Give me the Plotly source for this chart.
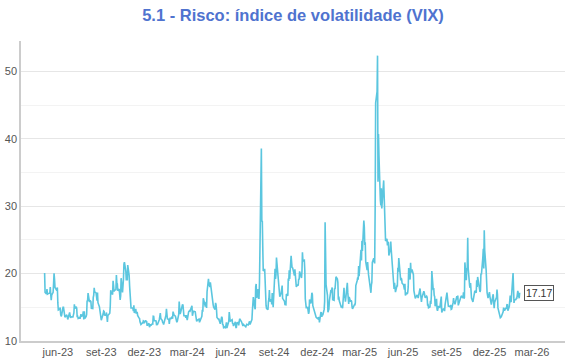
import pandas as pd
import plotly.graph_objects as go

title_text = "5.1 - Risco: índice de volatilidade (VIX)"
first_day = "2023-05-04"

market_holidays = [
    "2023-05-29", "2023-06-19", "2023-07-04", "2023-09-04", "2023-11-23", "2023-12-25",
    "2024-01-01", "2024-01-15", "2024-02-19", "2024-03-29", "2024-05-27", "2024-06-19",
    "2024-07-04", "2024-09-02", "2024-11-28", "2024-12-25",
    "2025-01-01", "2025-01-09", "2025-01-20", "2025-02-17", "2025-04-18", "2025-05-26",
    "2025-06-19", "2025-07-04", "2025-09-01", "2025-11-27", "2025-12-25",
    "2026-01-01", "2026-01-19",
]

# monthly blocks of daily closes (May..Dec 2023)
vix_2023 = [
    [20.09, 17.19, 16.98, 17.71, 16.94, 17.03, 17.03, 17.12, 17.99, 16.87, 16.05, 16.81,
     17.21, 18.53, 20.03, 19.14, 17.95, 17.46, 17.94],
    [15.65, 14.60, 14.73, 14.96, 13.94, 13.65, 13.83, 15.01, 15.01, 14.50, 14.15, 13.54,
     13.88, 13.54, 13.20, 13.44, 14.25, 13.74, 13.43, 13.54, 13.59],
    [13.57, 14.18, 15.44, 14.83, 15.07, 14.84, 13.54, 13.61, 13.34, 13.48, 13.30, 13.76,
     13.99, 13.60, 13.91, 14.41, 13.19, 14.41, 13.33, 13.63],
    [13.93, 15.99, 15.92, 17.10, 15.77, 15.99, 15.96, 15.85, 14.84, 14.82, 16.46, 16.78,
     17.89, 17.30, 17.13, 16.00, 15.98, 17.20, 15.68, 15.08, 14.45, 13.88, 13.57],
    [13.09, 14.04, 14.45, 14.40, 13.84, 13.80, 14.23, 13.48, 12.82, 13.79, 14.00, 14.11,
     15.14, 17.54, 17.20, 16.90, 18.94, 18.22, 17.34, 17.52],
    [17.61, 19.78, 18.58, 18.49, 17.45, 17.70, 17.03, 16.09, 16.69, 19.32, 17.21, 17.88,
     19.22, 21.40, 21.71, 20.37, 18.97, 20.19, 18.97, 21.27, 19.75, 18.14],
    [16.87, 15.66, 14.91, 14.89, 14.81, 14.45, 15.29, 14.17, 14.76, 14.16, 14.18, 14.32,
     13.80, 13.41, 13.35, 12.85, 12.46, 12.69, 12.69, 12.98, 12.92],
    [12.63, 13.08, 12.85, 12.97, 12.35, 12.35, 12.63, 12.07, 12.19, 12.48, 12.28, 12.56,
     12.53, 13.67, 13.65, 13.03, 12.99, 12.43, 12.47, 12.45],
]

vix_2024 = [
    [13.20, 14.04, 14.13, 13.35, 13.08, 12.76, 12.69, 12.44, 12.70, 13.84, 14.79, 14.13,
     13.30, 13.19, 12.55, 13.14, 13.45, 13.26, 13.60, 13.31, 14.35],
    [13.88, 13.85, 13.67, 13.06, 12.83, 12.79, 12.93, 13.93, 15.85, 14.38, 14.01, 14.24,
     15.42, 15.34, 14.54, 13.75, 13.74, 13.43, 13.84, 13.40],
    [13.11, 14.33, 14.46, 14.50, 14.44, 14.74, 15.23, 13.75, 14.40, 14.41, 14.41, 14.33,
     13.82, 12.99, 12.92, 13.06, 13.19, 13.24, 12.78, 13.01],
    [13.65, 14.61, 14.33, 16.35, 16.03, 15.19, 15.22, 15.80, 14.91, 17.31, 19.23, 18.40,
     18.21, 18.00, 18.71, 16.94, 15.69, 15.97, 15.37, 15.03, 14.67, 15.65],
    [15.39, 14.68, 13.49, 13.23, 13.33, 13.00, 12.69, 12.55, 13.60, 13.42, 12.45, 12.42,
     11.99, 12.15, 11.86, 12.29, 12.77, 11.93, 12.92, 14.28, 13.49, 12.92],
    [13.11, 13.16, 12.63, 12.58, 12.22, 12.74, 12.85, 12.04, 11.94, 12.66, 12.75, 12.30,
     13.28, 13.20, 12.84, 12.55, 12.55, 12.24, 12.44],
    [12.22, 12.03, 12.09, 12.48, 12.37, 12.51, 12.85, 12.91, 12.46, 13.12, 13.19, 14.48,
     15.93, 16.52, 14.91, 14.72, 18.04, 18.46, 16.39, 17.69, 16.36, 16.36],
    [18.59, 23.39, 38.57, 27.71, 27.85, 23.79, 20.37, 20.71, 18.12, 16.19, 15.23, 14.80,
     14.65, 15.88, 16.27, 17.55, 15.86, 16.15, 15.43, 17.11, 15.65, 15.00],
    [20.72, 19.21, 19.90, 22.38, 19.45, 19.08, 17.69, 17.07, 16.56, 17.14, 17.61, 18.23,
     16.33, 16.15, 15.89, 15.39, 15.41, 15.37, 16.96, 16.73],
    [19.26, 18.90, 20.49, 19.21, 22.64, 21.42, 20.86, 20.93, 20.46, 19.70, 20.64, 19.58,
     19.11, 18.03, 18.37, 18.20, 19.24, 19.08, 20.33, 19.80, 19.34, 20.35, 23.16],
    [21.88, 21.98, 20.49, 16.27, 15.20, 14.94, 14.97, 14.71, 14.02, 14.31, 16.14, 15.58,
     16.35, 17.16, 16.87, 15.24, 14.60, 14.10, 14.10, 13.51],
    [13.34, 13.30, 13.45, 13.54, 12.77, 14.19, 14.18, 13.58, 13.92, 13.81, 14.69, 15.87,
     27.62, 24.09, 18.36, 16.78, 14.27, 14.73, 15.95, 17.40, 17.35],
]

vix_2025 = [
    [17.93, 16.13, 16.04, 17.82, 17.70, 19.54, 19.19, 18.71, 16.12, 16.60, 15.97, 15.06,
     15.10, 15.02, 14.85, 17.90, 16.41, 16.56, 15.84, 16.43],
    [18.62, 17.21, 15.77, 15.50, 16.54, 15.81, 16.02, 15.89, 15.10, 14.77, 15.35, 15.27,
     15.66, 18.21, 18.98, 19.43, 19.10, 21.13, 19.63],
    [22.78, 23.51, 21.93, 24.87, 23.37, 27.86, 26.92, 24.23, 24.66, 21.77, 20.51, 21.70,
     19.90, 19.80, 19.28, 17.48, 17.15, 18.33, 18.69, 21.65, 22.28],
    [21.77, 21.51, 30.02, 45.31, 46.98, 52.33, 33.62, 40.72, 37.56, 30.89, 30.12, 32.64,
     29.65, 33.82, 30.57, 28.45, 26.47, 24.84, 25.15, 24.17, 24.70],
    [24.60, 22.68, 23.64, 24.76, 23.55, 22.48, 21.90, 18.39, 17.71, 18.62, 17.83, 17.24,
     18.14, 18.09, 20.87, 20.28, 22.29, 19.00, 19.31, 19.18, 18.57],
    [18.36, 17.69, 17.61, 18.48, 16.77, 17.16, 16.95, 17.26, 18.02, 20.82, 19.11, 21.60,
     20.14, 20.62, 19.83, 17.48, 16.76, 16.59, 16.32, 16.73],
    [16.83, 16.64, 16.38, 17.79, 16.81, 15.94, 15.78, 16.40, 17.20, 17.38, 17.16, 16.52,
     16.41, 16.65, 16.50, 15.37, 15.39, 14.93, 15.03, 15.98, 15.48, 16.72],
    [20.38, 17.52, 17.85, 16.77, 16.57, 15.15, 16.25, 14.73, 14.49, 14.83, 15.09, 15.00,
     15.57, 15.69, 16.60, 14.22, 14.79, 14.62, 14.85, 14.43, 15.36],
    [17.17, 16.35, 15.30, 15.18, 15.11, 15.04, 15.35, 14.71, 14.76, 15.69, 16.36, 15.72,
     15.70, 15.45, 16.10, 16.64, 16.18, 16.74, 15.29, 16.12, 16.28],
    [16.29, 16.63, 16.65, 16.37, 17.24, 16.30, 16.43, 21.66, 19.03, 20.81, 20.64, 25.31,
     20.78, 18.23, 17.87, 18.60, 17.30, 16.37, 15.79, 16.42, 16.92, 16.91, 17.44],
    [17.17, 19.00, 18.01, 19.50, 19.08, 17.60, 17.28, 17.51, 20.00, 19.83, 22.38, 23.66,
     20.76, 26.42, 23.43, 20.52, 18.56, 17.19, 16.35],
    [17.24, 16.59, 16.08, 15.78, 15.41, 16.66, 16.93, 15.77, 14.85, 15.74, 16.50, 16.48,
     17.62, 16.87, 14.91, 14.08, 14.00, 13.47, 13.60, 14.20, 14.33, 14.95],
]

vix_2026 = [
    [14.51, 14.90, 14.75, 15.38, 15.45, 14.49, 15.12, 15.98, 16.75, 15.84, 15.86, 20.09,
     16.90, 15.64, 16.09, 16.15, 16.35, 16.35, 16.88, 17.44],
    [16.34, 17.17],
]

tick_dates = ["2023-06-01", "2023-09-01", "2023-12-01", "2024-03-01", "2024-06-01",
              "2024-09-01", "2024-12-01", "2025-03-01", "2025-06-01", "2025-09-01",
              "2025-12-01", "2026-03-01"]
tick_labels = ["jun-23", "set-23", "dez-23", "mar-24", "jun-24", "set-24", "dez-24",
               "mar-25", "jun-25", "set-25", "dez-25", "mar-26"]

# build the daily series from trading-day calendar
start = pd.Timestamp(first_day)
dates, values = [], []
for year, first_month, blocks in [(2023, 5, vix_2023), (2024, 1, vix_2024),
                                  (2025, 1, vix_2025), (2026, 1, vix_2026)]:
    for i, vals in enumerate(blocks):
        mstart = pd.Timestamp(year, first_month + i, 1)
        mend = mstart + pd.offsets.MonthEnd(0)
        days = pd.bdate_range(max(mstart, start), mend, freq="C", holidays=market_holidays)
        for d, v in zip(days, vals):
            dates.append(d)
            values.append(v)

line_color = "#5bc6df"
font_family = "Liberation Sans, Arial, sans-serif"

fig = go.Figure()
fig.add_trace(go.Scatter(
    x=dates, y=values, mode="lines",
    line=dict(color=line_color, width=1.6),
    hoverinfo="x+y", showlegend=False,
))

fig.add_annotation(
    x=dates[-1], y=values[-1], text=f"{values[-1]:.2f}",
    xanchor="left", yanchor="middle", xshift=4, showarrow=False,
    font=dict(family=font_family, size=10.5, color="#333333"),
    bordercolor="#555555", borderwidth=1, borderpad=1, bgcolor="#ffffff",
)

fig.update_layout(
    width=570, height=360,
    margin=dict(l=21, r=5, t=41, b=19),
    paper_bgcolor="#ffffff", plot_bgcolor="#ffffff",
    font=dict(family=font_family, size=11, color="#555555"),
    title=dict(
        text=f"<b>{title_text}</b>", x=0.5, xref="paper", xanchor="center",
        y=1 - 15 / 360, yanchor="middle", yref="container",
        font=dict(family=font_family, size=16.5, color="#4f73cf"),
    ),
    xaxis=dict(
        type="date", range=["2023-03-15", "2026-05-10"],
        tickvals=tick_dates, ticktext=tick_labels, automargin=False,
        showgrid=False, showline=True, linecolor="#cccccc", linewidth=2,
        ticks="", ticklen=0, tickfont=dict(size=11, color="#555555"), zeroline=False,
    ),
    yaxis=dict(
        range=[10, 54.5], tickvals=[10, 20, 30, 40, 50], automargin=False,
        showgrid=True, gridcolor="#e6e6e6", gridwidth=1,
        showline=True, linecolor="#cccccc", linewidth=1.5,
        ticks="", ticklen=0, tickfont=dict(size=11, color="#555555"), zeroline=False,
        minor=dict(dtick=5, tick0=10, showgrid=True, gridcolor="#f3f3f3", gridwidth=1),
    ),
)

fig.write_html(
    "out.html",
    config={"displayModeBar": False},
    post_script="document.body.style.margin='0';document.body.style.overflow='hidden';",
)
